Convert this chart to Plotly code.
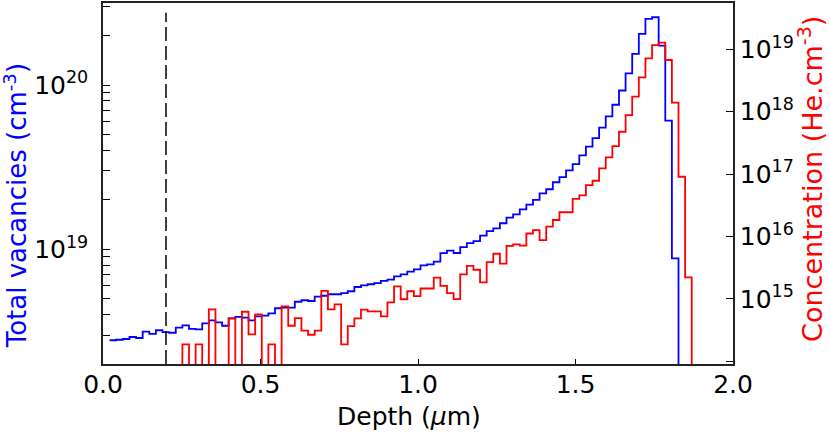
import numpy as np
import plotly.graph_objects as go

# depth bins (um), SRIM style output, left edge of each bin
depth = [0.021, 0.042, 0.063, 0.084, 0.105, 0.126, 0.147, 0.168, 0.189, 0.210,
         0.231, 0.252, 0.273, 0.294, 0.315, 0.336, 0.357, 0.378, 0.399, 0.420,
         0.441, 0.462, 0.483, 0.504, 0.525, 0.546, 0.567, 0.588, 0.609, 0.630,
         0.651, 0.672, 0.693, 0.714, 0.735, 0.756, 0.777, 0.798, 0.819, 0.840,
         0.861, 0.882, 0.903, 0.924, 0.945, 0.966, 0.987, 1.008, 1.029, 1.050,
         1.071, 1.092, 1.113, 1.134, 1.155, 1.176, 1.197, 1.218, 1.239, 1.260,
         1.281, 1.302, 1.323, 1.344, 1.365, 1.386, 1.407, 1.428, 1.449, 1.470,
         1.491, 1.512, 1.533, 1.554, 1.575, 1.596, 1.617, 1.638, 1.659, 1.680,
         1.701, 1.722, 1.743, 1.764, 1.785, 1.806, 1.827, 1.848, 1.869]

# total vacancies (cm-3)
vacancies = [2.79e18, 2.81e18, 2.84e18, 2.92e18, 2.88e18, 3.15e18, 3.05e18, 3.21e18, 3.13e18, 3.10e18,
             3.33e18, 3.44e18, 3.27e18, 3.25e18, 3.54e18, 3.69e18, 3.59e18, 3.42e18, 3.79e18, 3.87e18,
             3.83e18, 3.69e18, 3.90e18, 3.94e18, 4.07e18, 4.37e18, 4.41e18, 4.41e18, 4.79e18, 4.89e18,
             4.84e18, 5.14e18, 5.21e18, 5.32e18, 5.32e18, 5.40e18, 5.55e18, 5.89e18, 6.03e18, 6.12e18,
             6.21e18, 6.41e18, 6.53e18, 6.84e18, 7.04e18, 7.30e18, 7.55e18, 7.98e18, 8.10e18, 8.40e18,
             9.46e18, 9.80e18, 9.49e18, 1.03e19, 1.09e19, 1.12e19, 1.21e19, 1.29e19, 1.34e19, 1.44e19,
             1.56e19, 1.63e19, 1.75e19, 1.87e19, 2.00e19, 2.19e19, 2.32e19, 2.56e19, 2.75e19, 3.02e19,
             3.30e19, 3.73e19, 4.22e19, 4.75e19, 5.50e19, 6.44e19, 7.59e19, 9.27e19, 1.18e20, 1.55e20,
             2.05e20, 2.53e20, 2.59e20, 1.74e20, 6.08e19, 8.81e18, 0]

# He concentration (He.cm-3), 0 = empty bin
helium = [0, 0, 0, 0, 0, 0, 0, 0, 0, 0,
          0, 1.87e14, 0, 1.87e14, 0, 6.81e14, 0, 0, 4.89e14, 0,
          6.24e14, 2.71e14, 5.66e14, 0, 1.87e14, 0, 7.61e14, 3.72e14, 4.94e14, 3.12e14,
          2.67e14, 3.12e14, 1.35e15, 6.81e14, 8.19e14, 1.87e14, 3.68e14, 4.89e14, 6.74e14, 6.33e14,
          6.33e14, 5.28e14, 8.83e14, 1.59e15, 9.89e14, 1.33e15, 1.11e15, 1.47e15, 1.47e15, 2.19e15,
          1.62e15, 1.24e15, 9.96e14, 2.48e15, 3.40e15, 2.94e15, 1.85e15, 3.90e15, 5.30e15, 3.69e15,
          7.10e15, 7.50e15, 7.13e15, 1.12e16, 1.27e16, 8.79e15, 1.44e16, 1.84e16, 2.45e16, 2.45e16,
          4.02e16, 4.57e16, 6.68e16, 7.83e16, 1.24e17, 1.86e17, 2.82e17, 4.78e17, 8.85e17, 1.74e18,
          3.56e18, 7.17e18, 1.17e19, 1.28e19, 6.74e18, 1.40e18, 9.08e16, 2.22e15, 0]

surface_depth = 0.2  # dashed marker

x_ticks = [0, 0.5, 1.0, 1.5, 2.0]
x_labels = ["0.0", "0.5", "1.0", "1.5", "2.0"]

FONT = "DejaVu Sans"

# empty bins pushed below the axis so the steps drop to the frame
vac_plot = np.where(np.array(vacancies) > 0, vacancies, 1e16)
he_plot = np.where(np.array(helium) > 0, helium, 1e12)

# left axis ticks: decades labelled, 2..9 unlabelled
left_vals, left_text = [], []
for dec in [18, 19, 20]:
    for m in range(1, 10):
        v = m * 10.0 ** dec
        if 2e18 <= v <= 3.1e20:
            left_vals.append(v)
            left_text.append("10<sup>%d</sup>" % dec if m == 1 else "")

right_vals = [1e14, 1e15, 1e16, 1e17, 1e18, 1e19]
right_text = [""] + ["10<sup>%d</sup>" % e for e in [15, 16, 17, 18, 19]]

fig = go.Figure()
fig.add_trace(go.Scatter(x=depth[:len(vacancies)], y=vac_plot, mode="lines", line_shape="hv",
                         line=dict(color="#0000FF", width=1.8), name="Vacancies"))
fig.add_trace(go.Scatter(x=depth, y=he_plot, mode="lines", line_shape="hv", yaxis="y2",
                         line=dict(color="#FF0000", width=1.8), name="He"))

fig.add_shape(type="line", x0=surface_depth, x1=surface_depth, xref="x", yref="paper", y0=0, y1=0.973,
              line=dict(color="black", width=1.5, dash="14px,5px"))

fig.update_layout(
    width=830, height=440,
    margin=dict(l=103, r=97, t=3, b=76, autoexpand=False),
    paper_bgcolor="white", plot_bgcolor="white",
    showlegend=False,
    font=dict(family=FONT, size=25, color="black"),
    xaxis=dict(range=[0, 2], tickvals=x_ticks, ticktext=x_labels, ticks="inside", ticklen=5,
               tickcolor="black", showline=True, linecolor="#222", linewidth=1.5, mirror=True,
               showgrid=False, zeroline=False, ticklabelstandoff=-3, automargin=False),
    yaxis=dict(type="log", range=[np.log10(2e18), 20.5], tickvals=left_vals, ticktext=left_text,
               ticks="inside", ticklen=7, tickcolor="black", showline=True, linecolor="#222",
               linewidth=1.5, showgrid=False, zeroline=False, ticklabelstandoff=8, automargin=False),
    yaxis2=dict(type="log", range=[13.958, 19.742], overlaying="y", side="right",
                tickvals=right_vals, ticktext=right_text, ticks="inside", ticklen=7, tickcolor="black",
                showline=True, linecolor="#222", linewidth=1.5, showgrid=False, zeroline=False,
                ticklabelstandoff=0, automargin=False),
)

# axis titles as annotations so they sit where the original puts them
fig.add_annotation(text="Total vacancies (cm<sup>-3</sup>)", xref="paper", yref="paper",
                   x=-0.139, y=0.438, xanchor="center", yanchor="middle", textangle=-90,
                   showarrow=False, font=dict(family=FONT, size=26, color="#0000FF"))
fig.add_annotation(text="Concentration (He.cm<sup>-3</sup>)", xref="paper", yref="paper",
                   x=1.123, y=0.514, xanchor="center", yanchor="middle", textangle=-90,
                   showarrow=False, font=dict(family=FONT, size=27, color="#FF0000"))
fig.add_annotation(text="Depth (<i>\u00b5</i>m)", xref="paper", yref="paper",
                   x=0.485, y=-0.146, xanchor="center", yanchor="middle", showarrow=False,
                   font=dict(family=FONT, size=25, color="black"))

# page body has a default 8px margin, drop it so the figure sits at the window corner
fig.write_html("out.html", config={"displayModeBar": False},
               post_script="document.body.style.margin='0px';")
